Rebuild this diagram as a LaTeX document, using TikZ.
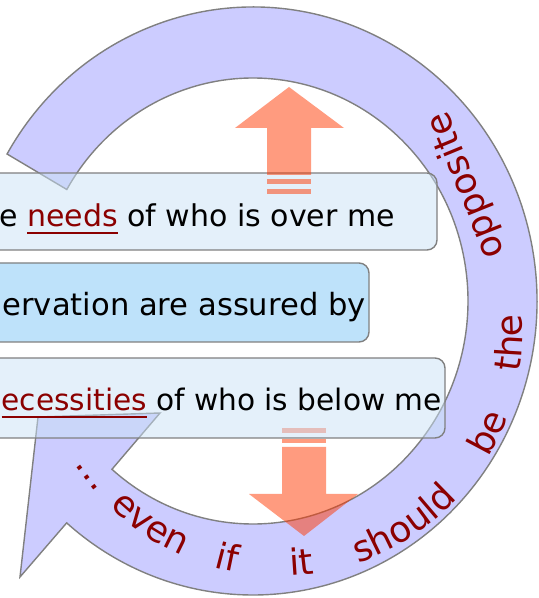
\documentclass[tikz,border=0pt]{standalone}
\usepackage{fontspec}
\setmainfont{DejaVu Sans}
\usetikzlibrary{decorations.text,calc}
\definecolor{bandfill}{RGB}{204,204,255}
\definecolor{edgegray}{RGB}{128,128,128}
\definecolor{boxlight}{RGB}{201,225,245}
\definecolor{boxmid}{RGB}{190,226,250}
\definecolor{salmon}{RGB}{255,55,0}
\definecolor{dred}{RGB}{139,0,0}
\newcommand\redword[1]{\textcolor{dred}{\setbox0\hbox{#1}\rlap{\rule[-7pt]{\wd0}{2.2pt}}\box0}}
\newcommand\curvefont{\fontsize{36}{40}\selectfont}
\begin{document}
\begin{tikzpicture}[x=1pt,y=1pt,
  bandstyle/.style={fill=bandfill, draw=edgegray, line width=1.4pt, line join=miter},
  boxstyle/.style={draw=edgegray, line width=1.4pt, rounded corners=10pt},
  salmonarrow/.style={fill=salmon, fill opacity=0.5, draw=none},
  boxtext/.style={inner sep=0pt, anchor=base east, text=black},
  curvword/.style={decorate, decoration={text along path, text align=center, text color=dred, text={|\curvefont|#1}}}
]
\useasboundingbox (0,0) rectangle (539,598);

% circular arrow band
\begin{scope}[shift={(253,297)}]
\draw[bandstyle] (150:284pt and 294pt)
  arc[start angle=150, end angle=-131, x radius=284pt, y radius=294pt]
  -- (-233,-276) -- (-215,-116) -- (-93,-112)
  -- (-131:215pt and 223pt)
  arc[start angle=-131, end angle=150, x radius=215pt, y radius=223pt] -- cycle;
\end{scope}

% down arrow (below the boxes)
\fill[salmonarrow] (282,151) -- (282,104) -- (249,104) -- (304,62) -- (358,104) -- (326,104) -- (326,151) -- cycle;
\fill[salmonarrow] (282,155) rectangle (326,159);
\fill[salmonarrow] (282,165) rectangle (326,170);

% boxes
\draw[boxstyle, fill=boxlight, fill opacity=0.5] (-30,348) rectangle (437,425);
\draw[boxstyle, fill=boxmid] (-30,256) rectangle (369,335);
\draw[boxstyle, fill=boxlight, fill opacity=0.5] (-30,160) rectangle (445,240);

% up arrow (above the top box)
\fill[salmonarrow] (267,423) -- (267,470) -- (235,470) -- (289,511) -- (344,470) -- (311,470) -- (311,423) -- cycle;
\fill[salmonarrow] (267,414) rectangle (311,419);
\fill[salmonarrow] (267,404) rectangle (311,409);

% box texts
\node[boxtext, font=\fontsize{30}{36}\selectfont] (t1) at (395,371) {e \redword{needs} of who is over me};
\node[boxtext, font=\fontsize{30.6}{36}\selectfont] (t2) at (366,282) {ervation are assured by};
\node[boxtext, font=\fontsize{29.6}{36}\selectfont] (t3) at (442,187) {\redword{ecessities} of who is below me};

% curved text
\begin{scope}[shift={(279.5,265)}]
\path[curvword={…}] (187:243pt) arc[start angle=187, end angle=247, radius=243pt];
\path[curvword={even}] (206:243pt) arc[start angle=206, end angle=266, radius=243pt];
\path[curvword={if}] (227:243pt) arc[start angle=227, end angle=287, radius=243pt];
\path[curvword={it}] (245.5:243pt) arc[start angle=245.5, end angle=305.5, radius=243pt];
\path[curvword={should}] (273:243pt) arc[start angle=273, end angle=333, radius=243pt];
\path[curvword={be}] (304.5:243pt) arc[start angle=304.5, end angle=364.5, radius=243pt];
\path[curvword={the}] (327.5:243pt) arc[start angle=327.5, end angle=387.5, radius=243pt];
\end{scope}
\coordinate (oppA) at (510,330);
\coordinate (oppB) at (441,502);
\path[curvword={opposite}] (oppA) .. controls (490,385) and (462,450) .. (oppB);
\end{tikzpicture}
\end{document}
